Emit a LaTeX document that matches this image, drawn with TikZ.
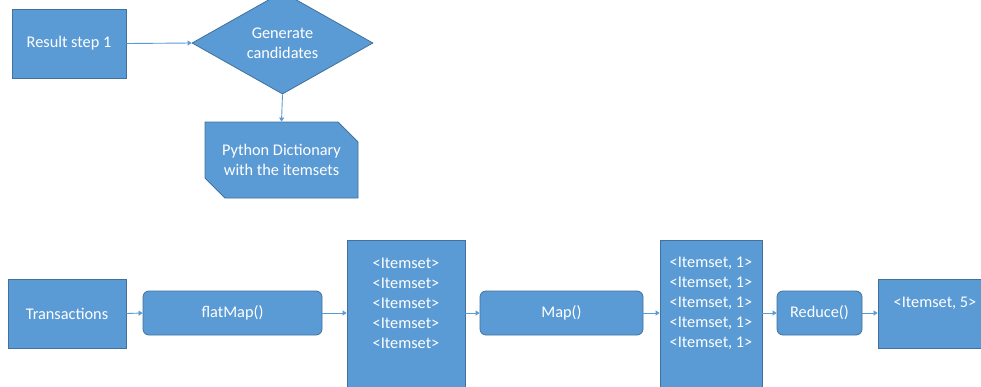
\documentclass[tikz,border=0pt]{standalone}
\usepackage{fontspec}
\setmainfont{Carlito}
\usetikzlibrary{shapes.geometric,shapes.misc,arrows.meta}
\definecolor{boxfill}{HTML}{5B9BD5}
\definecolor{boxline}{HTML}{41719C}
\definecolor{arrowc}{HTML}{5B9BD5}
\tikzset{
  base/.style={fill=boxfill,draw=boxline,line width=0.8pt,text=white,font=\fontsize{16.3}{20}\selectfont,align=center,inner sep=0pt},
  sqbox/.style={base,rectangle},
  rbox/.style={base,rectangle,rounded corners=6pt},
  lbl/.style={text=white,font=\fontsize{16.3}{20}\selectfont,align=center,inner sep=0pt},
  conn/.style={draw=arrowc,line width=0.9pt,-{Triangle[width=5pt,length=4pt]}}
}
\begin{document}
\begin{tikzpicture}[x=1pt,y=-1pt]
\clip (0,0) rectangle (981,386);
\fill[white] (0,0) rectangle (981,386);
% top part
\node[sqbox,minimum width=114pt,minimum height=69pt] (res) at (69,43.5) {Result step 1};
\node[base,diamond,minimum width=181pt,minimum height=74pt] (gen) at (282.5,43) {Generate\\candidates};
\node[base,chamfered rectangle,chamfered rectangle corners={north east,south west},chamfered rectangle xsep=10pt,chamfered rectangle ysep=10pt,minimum width=153pt,minimum height=76pt] (dict) at (281.5,160) {Python Dictionary\\with the itemsets};
\draw[conn] (res.east) -- (gen.west);
\draw[conn] (gen.south) -- (dict.north);
% bottom row
\node[sqbox,minimum width=118pt,minimum height=69pt] (tr) at (67,313.5) {Transactions};
\node[rbox,minimum width=179pt,minimum height=44pt] (fm) at (232.5,313) {flatMap()};
\node[sqbox,minimum width=118pt,minimum height=150pt] (is1) at (406,315) {};
\node[lbl] (is1t) at (406,303.5) {<Itemset>\\<Itemset>\\<Itemset>\\<Itemset>\\<Itemset>};
\node[rbox,minimum width=163pt,minimum height=44pt] (mp) at (561.5,313) {Map()};
\node[sqbox,minimum width=102pt,minimum height=150pt] (is2) at (711,315) {};
\node[lbl] (is2t) at (711,303.5) {<Itemset, 1>\\<Itemset, 1>\\<Itemset, 1>\\<Itemset, 1>\\<Itemset, 1>};
\node[rbox,minimum width=85pt,minimum height=44pt] (rd) at (819.5,313) {Reduce()};
\node[sqbox,minimum width=114pt,minimum height=69pt] (is5) at (935,313.5) {};
\node[lbl] (is5t) at (935,303) {<Itemset, 5>};
\draw[conn] (tr.east) -- (fm.west);
\draw[conn] (fm.east) -- (fm.east -| is1.west);
\draw[conn] (mp.west -| is1.east) -- (mp.west);
\draw[conn] (mp.east) -- (mp.east -| is2.west);
\draw[conn] (rd.west -| is2.east) -- (rd.west);
\draw[conn] (rd.east) -- (rd.east -| is5.west);
\end{tikzpicture}
\end{document}
